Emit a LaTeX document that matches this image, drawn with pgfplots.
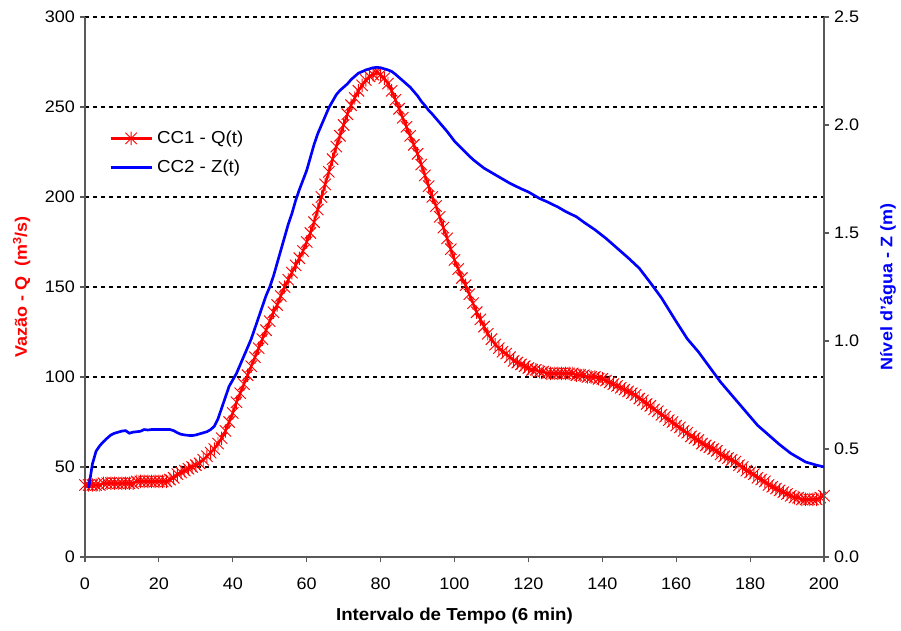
\documentclass[border=0pt]{standalone}
\usepackage{pgfplots}
\pgfplotsset{compat=1.18}
\usepackage{pgfplotstable}
\usepackage{fontspec}
\setmainfont{Liberation Sans}[FakeStretch=1.08]
\definecolor{qred}{RGB}{255,0,0}
\definecolor{zblue}{RGB}{0,0,255}
\pgfdeclareplotmark{xstar}{%
  \pgfpathmoveto{\pgfqpoint{-0.85\pgfplotmarksize}{-0.85\pgfplotmarksize}}%
  \pgfpathlineto{\pgfqpoint{0.85\pgfplotmarksize}{0.85\pgfplotmarksize}}%
  \pgfpathmoveto{\pgfqpoint{-0.85\pgfplotmarksize}{0.85\pgfplotmarksize}}%
  \pgfpathlineto{\pgfqpoint{0.85\pgfplotmarksize}{-0.85\pgfplotmarksize}}%
  \pgfpathmoveto{\pgfqpoint{0pt}{-\pgfplotmarksize}}%
  \pgfpathlineto{\pgfqpoint{0pt}{\pgfplotmarksize}}%
  \pgfusepathqstroke}
\pgfplotstableread{
x q
0 40
1 40
2 40
3 40
4 40
5 41
6 41
7 41
8 41
9 41
10 41
11 41
12 41
13 41
14 42
15 42
16 42
17 42
18 42
19 42
20 42
21 42
22 42
23 43
24 44
25 46
26 47
27 48
28 49
29 50
30 51
31 52
32 54
33 56
34 58
35 60
36 63
37 66
38 70
39 75
40 80
41 86
42 91
43 96
44 101
45 106
46 111
47 116
48 121
49 126
50 131
51 136
52 140
53 145
54 150
55 154
56 158
57 162
58 166
59 170
60 175
61 180
62 186
63 193
64 200
65 207
66 214
67 221
68 228
69 234
70 240
71 246
72 251
73 255
74 259
75 262
76 265
77 267
78 268
79 269
80 268
81 266
82 263
83 259
84 254
85 249
86 244
87 239
88 234
89 229
90 224
91 218
92 212
93 206
94 200
95 195
96 189
97 183
98 177
99 171
100 165
101 160
102 155
103 151
104 146
105 141
106 136
107 132
108 128
109 124
110 121
111 118
112 116
113 114
114 113
115 111
116 109
117 108
118 107
119 106
120 105
121 104
122 104
123 103
124 103
125 102
126 102
127 102
128 102
129 102
130 102
131 102
132 102
133 101
134 101
135 101
136 100
137 100
138 100
139 99
140 99
141 98
142 97
143 96
144 95
145 94
146 93
147 92
148 91
149 90
150 88
151 87
152 85
153 84
154 82
155 81
156 79
157 78
158 76
159 75
160 73
161 72
162 70
163 69
164 67
165 66
166 65
167 63
168 62
169 61
170 60
171 59
172 57
173 56
174 55
175 54
176 53
177 51
178 50
179 48
180 47
181 46
182 44
183 43
184 42
185 40
186 39
187 38
188 37
189 36
190 35
191 34
192 33
193 33
194 32
195 32
196 32
197 32
198 32
199 33
200 34
}\qdata
\pgfplotstableread{
x z
1 0.32
2 0.43
3 0.49
4 0.515
5 0.534
6 0.55
7 0.565
8 0.573
9 0.578
10 0.583
11 0.585
12 0.573
13 0.578
14 0.58
15 0.582
16 0.59
17 0.588
18 0.59
20 0.59
22 0.59
23 0.59
24 0.585
25 0.575
26 0.568
27 0.565
28 0.563
29 0.562
30 0.565
31 0.57
32 0.575
33 0.58
34 0.59
35 0.605
36 0.64
37 0.69
38 0.74
39 0.79
40 0.82
41 0.85
42 0.89
43 0.93
44 0.97
45 1.01
46 1.06
47 1.11
48 1.16
49 1.21
50 1.25
51 1.30
52 1.36
53 1.42
54 1.48
55 1.54
56 1.59
57 1.65
58 1.70
59 1.745
60 1.79
61 1.85
62 1.91
63 1.96
64 2.00
65 2.04
66 2.08
67 2.11
68 2.14
69 2.16
70 2.175
71 2.19
72 2.21
73 2.225
74 2.24
75 2.247
76 2.255
77 2.26
78 2.265
79 2.267
80 2.265
81 2.26
82 2.255
83 2.248
84 2.235
85 2.22
86 2.205
87 2.19
88 2.175
89 2.155
90 2.135
91 2.11
92 2.09
93 2.068
94 2.05
95 2.03
96 2.01
98 1.97
100 1.925
102 1.89
105 1.84
108 1.80
110 1.78
113 1.75
115 1.73
118 1.705
120 1.69
123 1.66
125 1.645
128 1.62
130 1.60
133 1.575
135 1.55
138 1.515
141 1.475
144 1.43
147 1.385
150 1.337
153 1.27
156 1.20
160 1.09
163 1.01
166 0.95
169 0.88
172 0.81
175 0.75
178 0.69
182 0.61
185 0.565
188 0.52
191 0.48
195 0.44
198 0.425
200 0.417
}\zdata
\begin{document}
\begin{tikzpicture}
\pgfplotsset{
  every axis/.style={
    scale only axis, width=554.25pt, height=405pt,
    xmin=0, xmax=200,
    tick label style={font=\fontsize{12.5}{14}\selectfont},
    /pgf/number format/assume math mode=true,
    tick align=outside, major tick length=4pt,
    axis line style={black!65, line width=0.8pt},
    tick style={black!65, line width=0.8pt},
  }
}
\begin{axis}[
  name=ax,
  ymin=0, ymax=300,
  axis x line*=bottom, axis y line*=left,
  xtick={0,20,...,200},
  ytick={0,50,...,300},
  xticklabel style={yshift=-8pt},
  ymajorgrids,
  major grid style={black, line width=1.6pt, dash pattern=on 3pt off 3pt},
  xlabel={\bfseries Intervalo de Tempo (6 min)},
  ylabel={\color{qred}\bfseries Vazão - Q\ \ (m\textsuperscript{3}/s)},
  xlabel style={font=\fontsize{13}{15}\selectfont\bfseries, yshift=-7pt},
  ylabel style={font=\fontsize{12.5}{15}\selectfont\bfseries, yshift=4pt},
  legend style={draw=none, fill=none, at={(axis cs:6.5,239)}, anchor=north west,
    font=\fontsize{13}{15}\selectfont, row sep=5pt, inner sep=0pt,
    nodes={inner sep=3pt}},
  legend cell align=left,
  legend image code/.code={%
    \draw[mark repeat=2, mark phase=2] plot coordinates {(0pt,0pt) (15.4pt,0pt) (30.8pt,0pt)};},
]
\addplot[qred, line width=1.8pt, mark=xstar, mark size=5pt,
  mark options={line width=0.7pt, solid}] table[x=x, y=q] {\qdata};
\addlegendentry{CC1 - Q(t)}
\addlegendimage{zblue, line width=2pt}
\addlegendentry{CC2 - Z(t)}
\end{axis}
\begin{axis}[
  ymin=0, ymax=2.5,
  axis x line=none, axis y line*=right,
  ytick={0,0.5,...,2.5},
  yticklabel style={/pgf/number format/.cd, fixed, fixed zerofill, precision=1},
  ylabel={\color{zblue}\bfseries Nível d'água - Z (m)},
  ylabel style={font=\fontsize{12.5}{15}\selectfont\bfseries, yshift=-9pt},
]
\addplot[zblue, line width=2pt] table[x=x, y=z] {\zdata};
\end{axis}
\pgfresetboundingbox
\path[use as bounding box] (ax.south west) ++(-63.75pt,-55.5pt) rectangle ++(675.75pt,473.25pt);
\end{tikzpicture}
\end{document}
